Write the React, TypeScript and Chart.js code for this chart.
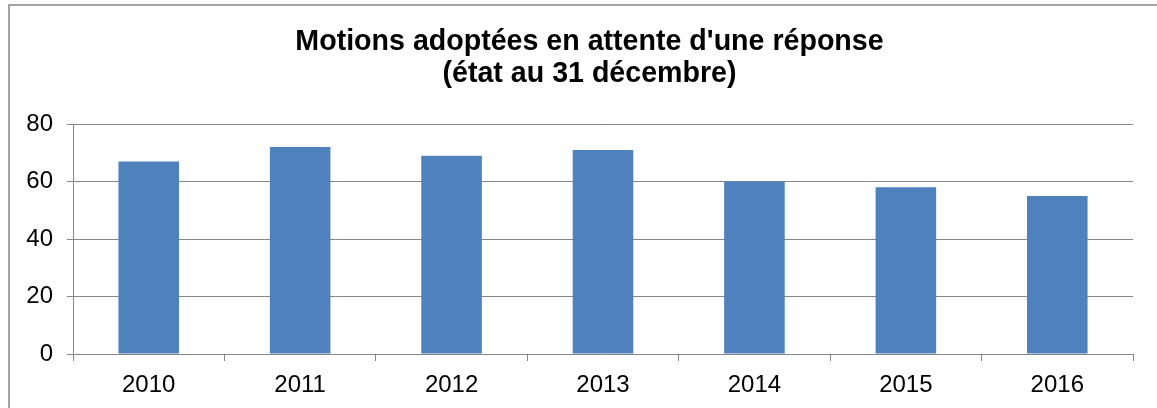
import React, { useEffect, useRef } from "react";
import { Chart, registerables } from "chart.js";

Chart.register(...registerables);

const categories = ["2010", "2011", "2012", "2013", "2014", "2015", "2016"];
const motions = [67, 72, 69, 71, 60, 58, 55];
const titleLines = ["Motions adoptées en attente d'une réponse", "(état au 31 décembre)"];
const yTicks = [0, 20, 40, 60, 80];

const GRID = "#868686";
const FONT = "'Liberation Sans', Arial, sans-serif";

const framePlugin = {
  id: "frame",
  beforeDraw(chart: any) {
    const ctx = chart.ctx;
    ctx.save();
    ctx.fillStyle = "#ffffff";
    ctx.fillRect(0, 0, chart.width, chart.height);
    ctx.strokeStyle = "#8c8c8c";
    ctx.lineWidth = 1.6;
    ctx.strokeRect(9, 5, chart.width + 50, chart.height + 50);
    ctx.restore();
  },
};

export default function App() {
  const ref = useRef<HTMLCanvasElement | null>(null);

  useEffect(() => {
    if (!ref.current) return;
    const chart = new Chart(ref.current, {
      type: "bar",
      data: {
        labels: categories,
        datasets: [
          {
            label: "Motions",
            data: motions,
            backgroundColor: "#4F81BD",
            borderWidth: 0,
            barPercentage: 0.4,
            categoryPercentage: 1,
            yAxisID: "y",
          },
        ],
      },
      options: {
        animation: false,
        responsive: false,
        layout: { padding: { left: 22, right: 0, top: 0, bottom: 0 } },
        plugins: {
          legend: { display: false },
          tooltip: { enabled: false },
          title: {
            display: true,
            text: titleLines,
            color: "#000",
            font: { family: FONT, size: 28.6, weight: "bold", lineHeight: 32 / 28.6 },
            padding: { top: 26, bottom: 34 },
          },
        },
        scales: {
          x: {
            offset: true,
            grid: {
              display: true,
              offset: true,
              drawOnChartArea: false,
              drawTicks: true,
              tickLength: 7,
              color: GRID,
            },
            border: { display: true, color: GRID, width: 1 },
            ticks: { color: "#000", font: { family: FONT, size: 24 }, padding: 10 },
            afterFit: (s: any) => {
              s.height = 54;
            },
          },
          y: {
            position: "left",
            min: 0,
            max: 80,
            afterBuildTicks: (s: any) => {
              s.ticks = yTicks.map((v) => ({ value: v }));
            },
            grid: { color: GRID, drawTicks: true, tickLength: 6 },
            border: { display: true, color: GRID, width: 1 },
            ticks: { color: "#000", font: { family: FONT, size: 24 }, padding: 14 },
            afterFit: (s: any) => {
              s.width = 51;
            },
          },
          yRight: {
            position: "right",
            display: true,
            min: 0,
            max: 80,
            grid: { display: false, drawTicks: false },
            border: { display: false },
            ticks: { display: false },
            afterFit: (s: any) => {
              s.width = 24;
            },
          },
        },
      },
      plugins: [framePlugin],
    });
    return () => chart.destroy();
  }, []);

  return (
    <div style={{ position: "absolute", left: 0, top: 0, width: 1157, height: 408 }}>
      <canvas ref={ref} width={1157} height={408} style={{ display: "block" }} />
    </div>
  );
}
